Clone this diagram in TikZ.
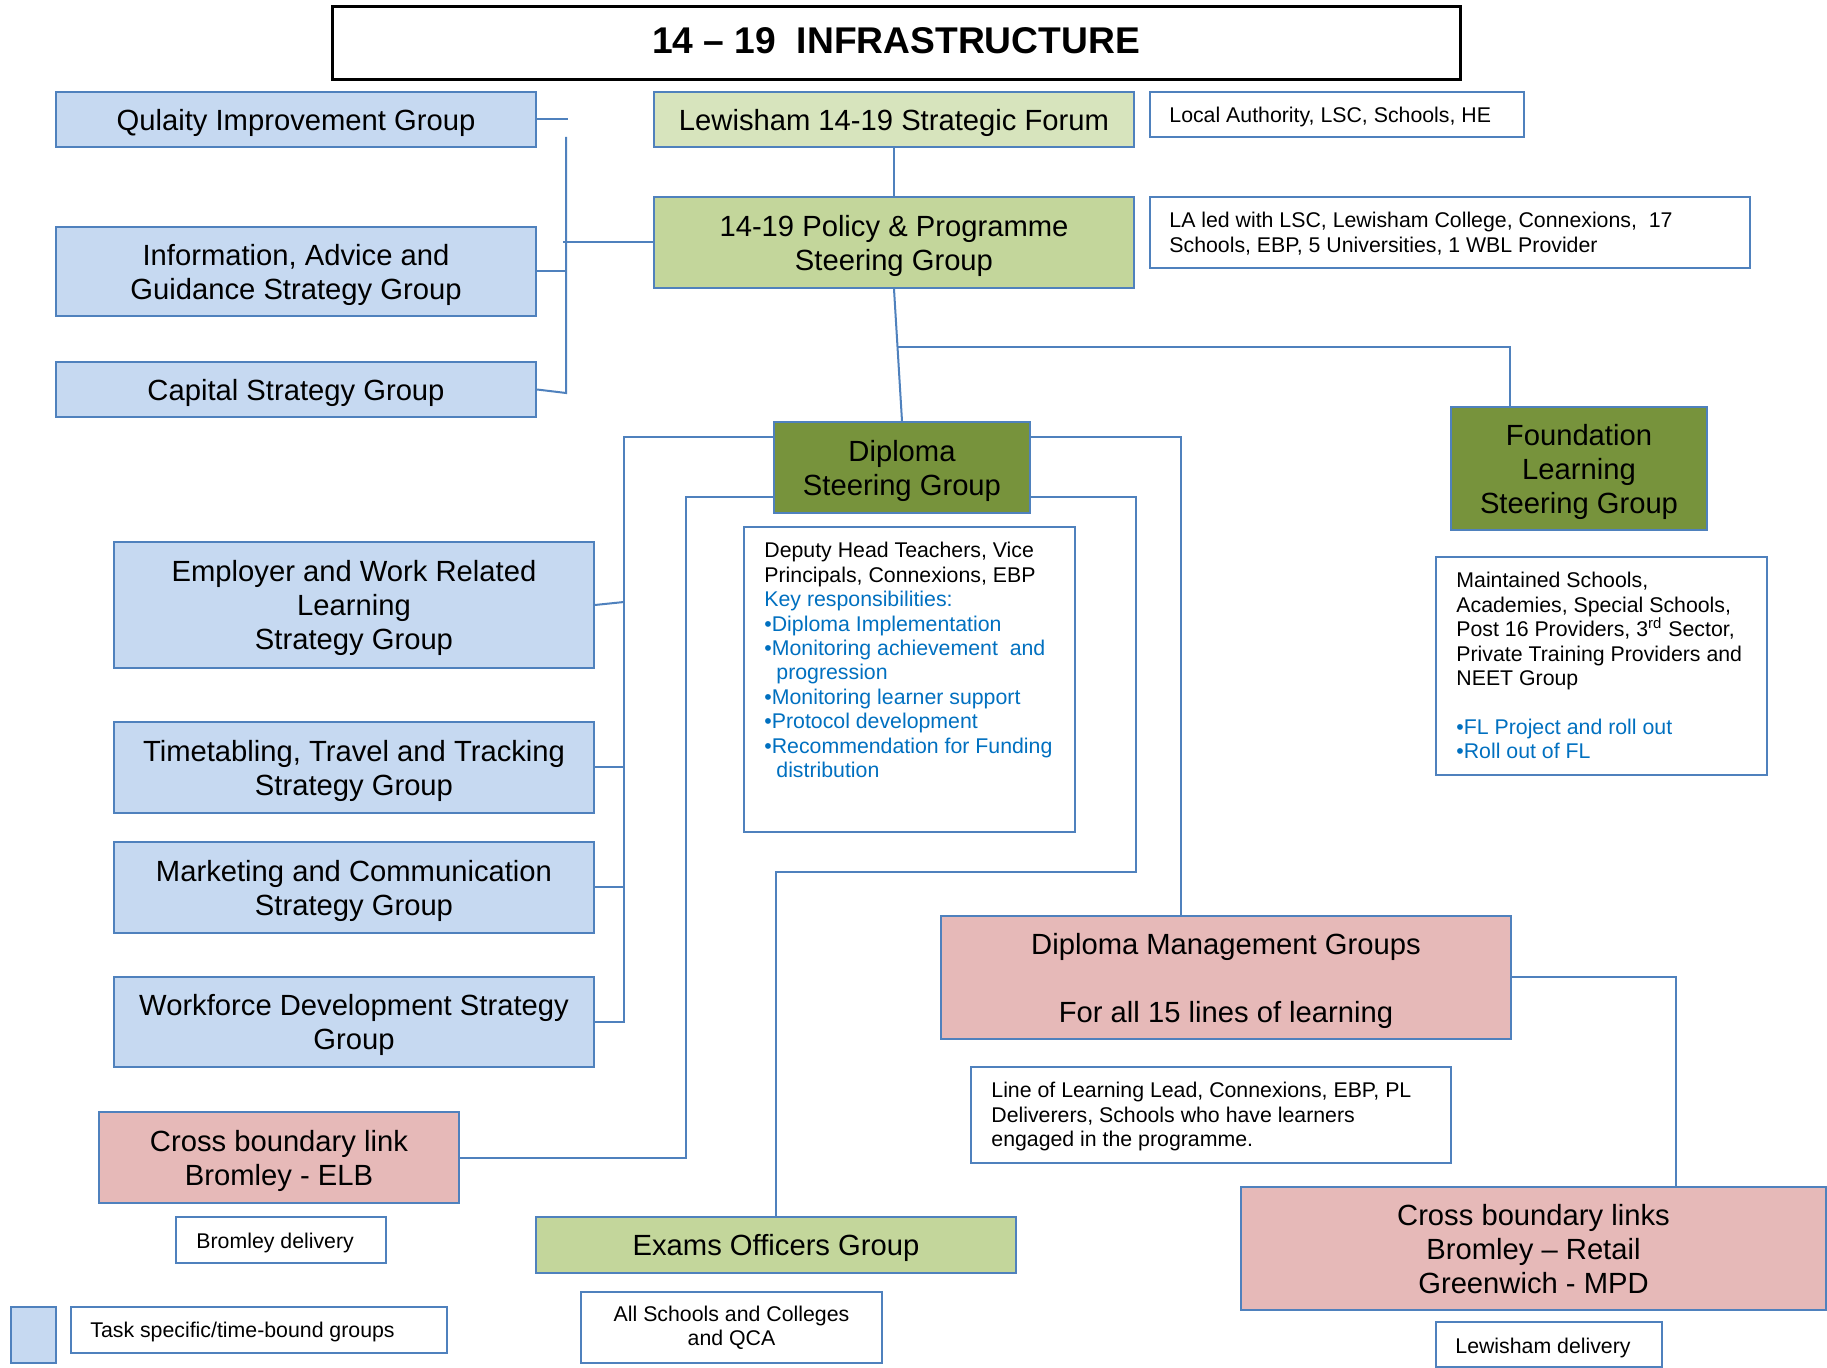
\documentclass[tikz,border=0pt]{standalone}
\usepackage{fontspec}
\setmainfont{Liberation Sans}
\usetikzlibrary{calc}
\definecolor{bordc}{HTML}{4F81BD}
\definecolor{lblue}{HTML}{C6D9F1}
\definecolor{pgreen}{HTML}{D7E4BD}
\definecolor{mgreen}{HTML}{C3D69B}
\definecolor{cOlive}{HTML}{77933C}
\definecolor{cPink}{HTML}{E6B9B8}
\definecolor{keyblue}{HTML}{0070C0}
\newcommand\mainsz{\fontsize{14.6pt}{17pt}\selectfont}
\newcommand\smallsz{\fontsize{10.65pt}{12.2pt}\selectfont}
\newcommand\titlesz{\fontsize{18.6pt}{22pt}\selectfont\bfseries}
\tikzset{
  grp/.style={draw=bordc, line width=1pt, inner sep=0pt, align=center, font=\mainsz, text depth=0pt},
  bluegrp/.style={grp, fill=lblue},
  pgrngrp/.style={grp, fill=pgreen},
  mgrngrp/.style={grp, fill=mgreen},
  olivegrp/.style={grp, fill=cOlive},
  pinkgrp/.style={grp, fill=cPink},
  titlebox/.style={draw=black, line width=1.5pt, fill=white, inner sep=0pt, font=\titlesz, text depth=2.8pt},
  notebox/.style={draw=bordc, line width=1pt, fill=white, inner sep=0pt, align=center},
  notetext/.style={anchor=north west, inner sep=0pt, align=left, font=\smallsz},
  conn/.style={draw=bordc, line width=1pt},
  sz/.style 2 args={minimum width=#1, minimum height=#2},
}
\begin{document}
\begin{tikzpicture}[x=0.5pt, y=-0.5pt]
\path[fill=white, use as bounding box] (0,0) rectangle (1827,1368);

% title
\node[titlebox, sz={564pt}{36.5pt}] (title) at (896,43.5) {14 – 19\ \ INFRASTRUCTURE};

% top-left groups
\node[bluegrp, sz={240pt}{27.5pt}] (qig) at (296,119.5) {Qulaity Improvement Group};
\node[bluegrp, sz={240pt}{44.5pt}] (iag) at (296,271.5) {Information, Advice and\\Guidance Strategy Group};
\node[bluegrp, sz={240pt}{27.5pt}] (csg) at (296,389.5) {Capital Strategy Group};

% centre top
\node[pgrngrp, sz={240pt}{27.5pt}] (forum) at (894,119.5) {Lewisham 14-19 Strategic Forum};
\node[mgrngrp, sz={240pt}{45.5pt}] (policy) at (894,242.5) {14-19 Policy \& Programme\\Steering Group};

\node[notebox, sz={187pt}{22.5pt}] (laf) at (1337,114.5) {};
\node[notetext] (laf-t) at ([xshift=10pt,yshift=-8pt]laf.north west) {Local Authority, LSC, Schools, HE};
\node[notebox, sz={300pt}{35.5pt}] (lap) at (1450,232.5) {};
\node[notetext] (lap-t) at ([xshift=10pt,yshift=-8pt]lap.north west) {LA led with LSC, Lewisham College, Connexions,\ \ 17\\Schools, EBP, 5 Universities, 1 WBL Provider};

% steering groups
\node[olivegrp, sz={128pt}{45.5pt}] (dsg) at (902,467.5) {Diploma\\Steering Group};
\node[olivegrp, sz={128pt}{61.5pt}] (fls) at (1579,468.5) {Foundation\\Learning\\Steering Group};

\node[notebox, sz={165.5pt}{109pt}] (flm) at (1601.5,666) {};
\node[notetext] (flm-t) at ([xshift=10.5pt,yshift=-8pt]flm.north west) {Maintained Schools,\\Academies, Special Schools,\\Post 16 Providers, 3\textsuperscript{rd} Sector,\\Private Training Providers and\\NEET Group\\[12.2pt]\textcolor{keyblue}{•FL Project and roll out}\\\textcolor{keyblue}{•Roll out of FL}};

\node[notebox, sz={165.5pt}{152.5pt}] (dsm) at (909.5,679.5) {};
\node[notetext] (dsm-t) at ([xshift=10.5pt,yshift=-8pt]dsm.north west) {Deputy Head Teachers, Vice\\Principals, Connexions, EBP\\\textcolor{keyblue}{Key responsibilities:}\\\textcolor{keyblue}{•Diploma Implementation}\\\textcolor{keyblue}{•Monitoring achievement\ \ and}\\\textcolor{keyblue}{\hspace*{6pt}progression}\\\textcolor{keyblue}{•Monitoring learner support}\\\textcolor{keyblue}{•Protocol development}\\\textcolor{keyblue}{•Recommendation for Funding}\\\textcolor{keyblue}{\hspace*{6pt}distribution}};

% left strategy groups
\node[bluegrp, sz={240pt}{63pt}] (ewr) at (354,605) {Employer and Work Related\\Learning\\Strategy Group};
\node[bluegrp, sz={240pt}{45.5pt}] (ttt) at (354,767.5) {Timetabling, Travel and Tracking\\Strategy Group};
\node[bluegrp, sz={240pt}{45.5pt}] (mcs) at (354,887.5) {Marketing and Communication\\Strategy Group};
\node[bluegrp, sz={240pt}{45pt}] (wfs) at (354,1022) {Workforce Development Strategy\\Group};

\node[pinkgrp, sz={180pt}{45.5pt}] (cbl) at (279,1157.5) {Cross boundary link\\Bromley - ELB};
\node[notebox, sz={105pt}{23pt}] (bd) at (281,1240) {};
\node[notetext] (bd-t) at ([xshift=10.5pt,yshift=-8.5pt]bd.north west) {Bromley delivery};

\node[mgrngrp, sz={240pt}{28pt}] (eog) at (776,1245) {Exams Officers Group};
\node[notebox, sz={150.5pt}{35.5pt}, font=\smallsz] (asc) at (731.5,1327.5) {All Schools and Colleges\\and QCA};

% right lower
\node[pinkgrp, sz={285pt}{61.5pt}] (dmg) at (1226,977.5) {Diploma Management Groups\\[17pt]For all 15 lines of learning};
\node[notebox, sz={240pt}{48pt}] (lol) at (1211,1115) {};
\node[notetext] (lol-t) at ([xshift=10.5pt,yshift=-8pt]lol.north west) {Line of Learning Lead, Connexions, EBP, PL\\Deliverers, Schools who have learners\\engaged in the programme.};

\node[pinkgrp, sz={292.5pt}{61.5pt}] (cbls) at (1533.5,1248.5) {Cross boundary links\\Bromley – Retail\\Greenwich - MPD};
\node[notebox, sz={113pt}{22.5pt}] (ld) at (1549,1344.5) {};
\node[notetext] (ld-t) at ([xshift=10pt,yshift=-8.5pt]ld.north west) {Lewisham delivery};

% legend
\node[bluegrp, sz={22.5pt}{28pt}] (leg) at (33.5,1335) {};
\node[notebox, sz={188pt}{23pt}] (tsk) at (259,1330) {};
\node[notetext] (tsk-t) at ([xshift=10pt,yshift=-8pt]tsk.north west) {Task specific/time-bound groups};

% connectors
\coordinate (brtop) at (566,137);
\coordinate (brbot) at (566,393);
\draw[conn] (qig.east) -- ++(31,0);
\draw[conn] (brtop) -- (brbot) -- (csg.east);
\draw[conn] (iag.east) -- (iag.east -| brtop);
\draw[conn] (policy.west) -- ++(-90,0);
\draw[conn] (forum.south) -- (policy.north);
\draw[conn] (policy.south) -- (dsg.north);
\draw[conn] ($(policy.south)!0.44!(dsg.north)$) -| ([xshift=30pt]fls.north west);

\coordinate (lbus) at (624,0);
\coordinate (ilbus) at (686,0);
\draw[conn] ([yshift=15pt]dsg.west) -| (wfs.east -| lbus) -- (wfs.east);
\draw[conn] (ewr.east) -- ($(ewr.east -| lbus)+(0,-3)$);
\draw[conn] (ttt.east) -- (ttt.east -| lbus);
\draw[conn] (mcs.east) -- (mcs.east -| lbus);
\draw[conn] ([yshift=-15pt]dsg.west) -| (cbl.east -| ilbus) -- (cbl.east);

\coordinate (rturn) at (1136,872);
\draw[conn] ([yshift=-15pt]dsg.east) -| (rturn) -| (eog.north);
\draw[conn] ([yshift=15pt]dsg.east) -| ([xshift=-22.5pt]dmg.north);
\draw[conn] (dmg.east) -| ([xshift=71.25pt]cbls.north);
\end{tikzpicture}
\end{document}
